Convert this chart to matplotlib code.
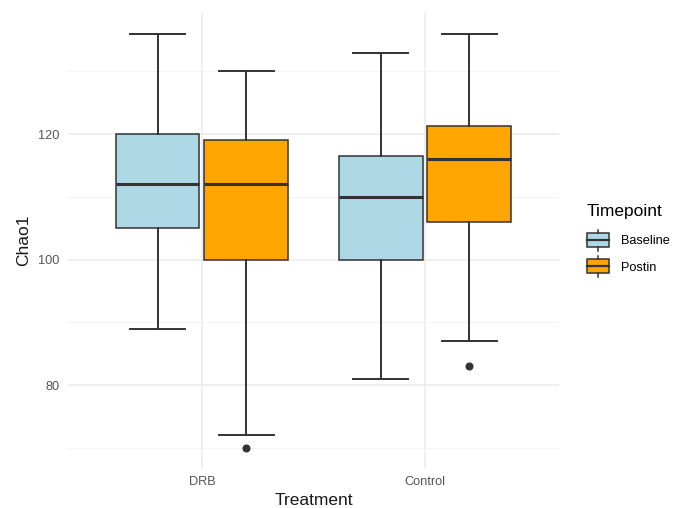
import matplotlib.pyplot as plt
from matplotlib.legend_handler import HandlerBase
from matplotlib.patches import Rectangle
from matplotlib.lines import Line2D


treatments = ["DRB", "Control"]
timepoints = ["Baseline", "Postin"]
colors = {"Baseline": "#ADD8E6", "Postin": "#FFA500"}

# box summaries per treatment, in the order of `treatments`
baseline_whislo = [89, 81]
baseline_q1 = [105, 100]
baseline_med = [112, 110]
baseline_q3 = [120, 116.5]
baseline_whishi = [136, 133]
baseline_fliers = [[], []]

postin_whislo = [72, 87]
postin_q1 = [100, 106]
postin_med = [112, 116]
postin_q3 = [119, 121.3]
postin_whishi = [130, 136]
postin_fliers = [[70], [83]]

EDGE = "#333333"
GRID = "#EBEBEB"
FONT = "Liberation Sans"


def make_stats(whislo, q1, med, q3, whishi, fliers):
    out = []
    for i in range(len(med)):
        out.append({
            "whislo": whislo[i], "q1": q1[i], "med": med[i],
            "q3": q3[i], "whishi": whishi[i], "fliers": fliers[i],
        })
    return out


class BoxHandler(HandlerBase):
    # small boxplot glyph for the legend keys
    def create_artists(self, legend, orig_handle, xdescent, ydescent,
                       width, height, fontsize, trans):
        face = orig_handle.get_facecolor()
        x0 = -xdescent
        y0 = -ydescent
        rect = Rectangle((x0, y0), width, height, facecolor=face,
                         edgecolor=EDGE, linewidth=1.1, transform=trans)
        cx = x0 + width / 2
        med = Line2D([x0, x0 + width], [y0 + height / 2] * 2, color=EDGE,
                     linewidth=1.6, transform=trans)
        top = Line2D([cx, cx], [y0 + height, y0 + height * 1.25], color=EDGE,
                     linewidth=1.1, transform=trans)
        bot = Line2D([cx, cx], [y0, y0 - height * 0.25], color=EDGE,
                     linewidth=1.1, transform=trans)
        return [rect, med, top, bot]


plt.rcParams["font.family"] = [FONT, "DejaVu Sans"]

fig = plt.figure(figsize=(6.75, 5.08), dpi=100)
ax = fig.add_axes([0.1007, 0.0787, 0.7273, 0.8957])

offset = 0.1985
box_w = 0.375
cap_w = 0.246
x = list(range(1, len(treatments) + 1))

groups = [
    ("Baseline", make_stats(baseline_whislo, baseline_q1, baseline_med,
                            baseline_q3, baseline_whishi, baseline_fliers), -offset),
    ("Postin", make_stats(postin_whislo, postin_q1, postin_med,
                          postin_q3, postin_whishi, postin_fliers), offset),
]

for name, stats, dx in groups:
    ax.bxp(
        stats,
        positions=[p + dx for p in x],
        widths=box_w,
        capwidths=cap_w,
        patch_artist=True,
        manage_ticks=False,
        boxprops=dict(facecolor=colors[name], edgecolor=EDGE, linewidth=1.1),
        whiskerprops=dict(color=EDGE, linewidth=1.4),
        capprops=dict(color=EDGE, linewidth=1.4),
        medianprops=dict(color=EDGE, linewidth=2.2),
        flierprops=dict(marker="o", markersize=4.8, markerfacecolor=EDGE,
                        markeredgecolor=EDGE),
        zorder=3,
    )

ax.set_xlim(0.4, 2.6)
ax.set_ylim(66.8, 139.3)
ax.set_xticks(x)
ax.set_xticklabels(treatments)
ax.set_yticks([80, 100, 120])
ax.set_yticks([70, 90, 110, 130], minor=True)

for s in ax.spines.values():
    s.set_visible(False)
ax.grid(True, which="major", color=GRID, linewidth=1.1, zorder=0)
ax.grid(True, which="minor", axis="y", color="#F4F4F4", linewidth=0.8, zorder=0)
ax.set_axisbelow(True)
ax.tick_params(which="both", length=0, labelsize=9.2, colors="#555555", pad=6)

ax.set_xlabel("Treatment", fontsize=12.5, color="#1A1A1A", labelpad=3)
ax.set_ylabel("Chao1", fontsize=12.5, color="#1A1A1A", labelpad=5)

handles = [Rectangle((0, 0), 1, 1, facecolor=colors[t]) for t in timepoints]
leg = fig.legend(
    handles, timepoints,
    handler_map={Rectangle: BoxHandler()},
    loc="upper left", bbox_to_anchor=(0.869, 0.598),
    frameon=False, fontsize=9.2, title="Timepoint", title_fontsize=12.5,
    handlelength=1.75, handleheight=1.3, handletextpad=0.95, labelspacing=0.95,
    borderaxespad=0, borderpad=0,
)
leg._legend_box.align = "left"
leg._legend_box.sep = 10

fig.savefig("out.png", dpi=100)
